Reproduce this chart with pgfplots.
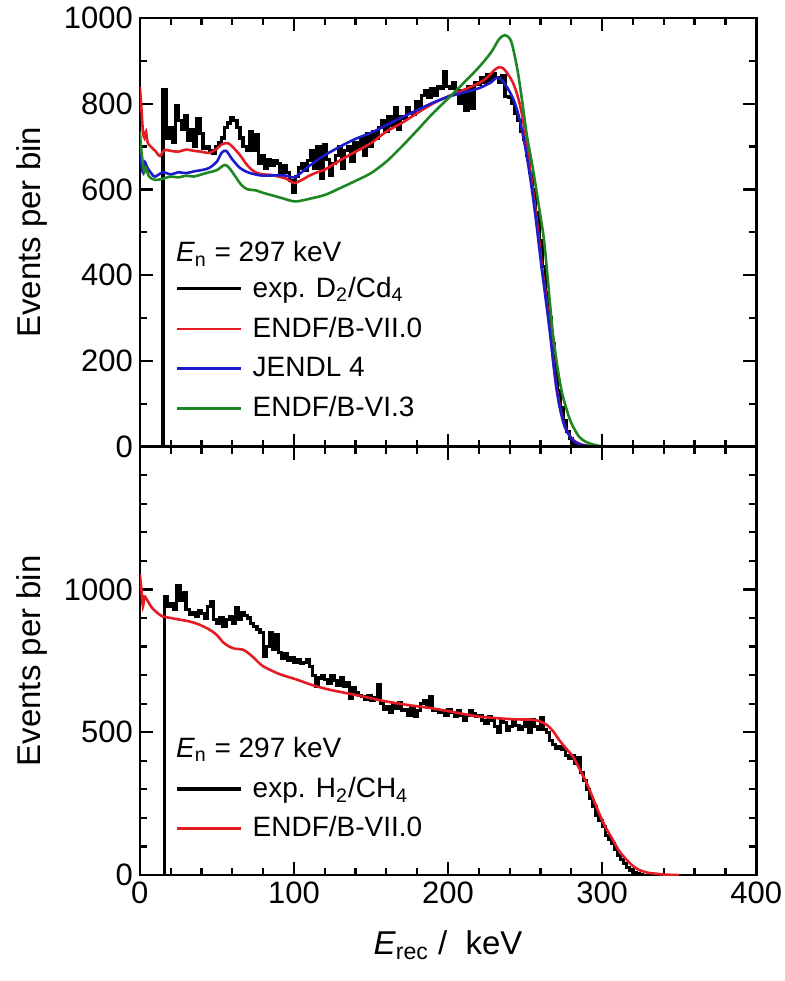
\documentclass[border=0pt]{standalone}
\usepackage{fontspec}
\setmainfont{Liberation Sans}
\usepackage{pgfplots}
\pgfplotsset{compat=1.18}
\definecolor{cred}{RGB}{228,28,36}
\definecolor{cblue}{RGB}{28,28,205}
\definecolor{cgreen}{RGB}{30,135,35}
\pgfplotsset{
  panel/.style={
    scale only axis, width=308.5pt, height=214.5pt,
    xmin=0, xmax=400, xtick={0,100,200,300,400}, minor xtick={20,40,...,380},
    major tick length=6.5pt, minor tick length=3.5pt,
    tick style={black, line width=1.1pt},
    axis line style={line width=1.3pt},
    tick label style={font=\fontsize{15.5}{18}\selectfont},
    /pgf/number format/assume math mode=true,
    /pgf/number format/1000 sep={},
    y label style={at={(axis description cs:-0.175,0.5)}, anchor=center, font=\fontsize{16.5}{19}\selectfont},
    x label style={at={(axis description cs:0.5,-0.163)}, anchor=center, font=\fontsize{16.5}{19}\selectfont},
    legend cell align=left,
    legend image code/.code={\draw[#1] (0pt,0pt) -- (32pt,0pt);},
  },
  expl/.style={black, line width=1.6pt, const plot},
  theo/.style={line width=1.3pt},
}
\begin{document}
\begin{tikzpicture}
% ---------------- top panel ----------------
\begin{axis}[panel, at={(0,214.5pt)}, anchor=south west,
  ymin=0, ymax=1000, ytick={0,200,...,1000}, minor ytick={100,300,...,900},
  xticklabels={}, ylabel={Events per bin},
  legend style={draw=none, fill=none, inner sep=0pt, outer sep=0pt,
    nodes={inner sep=0pt}, row sep=8.5pt, column sep=5pt,
    font=\fontsize{14}{16}\selectfont,
    at={(axis description cs:0.058,0.062)}, anchor=south west}]
\addplot[expl] coordinates {
(14,0) (15,832) (17,720) (19,745) (21,710) (23,795) (25,760) (27,740) (29,772) (31,715)
(33,740) (35,700) (37,765) (39,730) (41,695) (43,700) (45,690) (47,685) (49,700) (51,710)
(53,720) (55,745) (57,755) (59,768) (61,760) (63,745) (65,720) (67,700) (69,690) (71,735)
(73,690) (75,728) (77,660) (79,680) (81,650) (83,670) (85,655) (87,668) (89,660) (91,640)
(93,655) (95,640) (97,620) (99,592) (101,630) (103,650) (105,660) (107,645) (109,668) (111,690)
(113,650) (115,700) (117,625) (119,705) (121,670) (123,632) (125,660) (127,680) (129,700) (131,650)
(133,690) (135,700) (137,665) (139,710) (141,695) (143,720) (145,680) (147,730) (149,700) (151,735)
(153,720) (155,745) (157,760) (159,735) (161,770) (163,750) (165,790) (167,740) (169,770) (171,765)
(173,790) (175,780) (177,775) (179,805) (181,790) (183,820) (185,830) (187,815) (189,835) (191,820)
(193,840) (195,835) (197,874) (199,840) (201,835) (203,850) (205,830) (207,800) (209,830) (211,785)
(213,840) (215,790) (217,850) (219,845) (221,860) (223,850) (225,868) (227,855) (229,870) (231,862)
(233,850) (235,865) (237,817) (239,815) (241,800) (243,778) (245,760) (247,735) (249,716) (251,680)
(253,640) (255,600) (257,545) (259,480) (261,420) (263,360) (265,300) (267,240) (269,180) (271,130)
(273,90) (275,60) (277,35) (279,18) (281,8) (283,3) (285,0) (300,0)
};
\addlegendentry{exp. D\textsubscript{2}/Cd\textsubscript{4}}
\addplot[theo, cred, smooth] coordinates {
(0,840) (1,790) (2,735) (3,720) (4,735) (5,710) (7,700) (10,690) (13,678) (16,692) (20,690)
(25,688) (30,693) (35,690) (40,688) (45,685) (50,695) (53,705) (57,708) (60,700) (65,680)
(70,655) (75,640) (80,635) (85,634) (90,630) (95,625) (100,615) (105,622) (110,632) (115,640)
(120,646) (130,668) (140,688) (150,708) (160,735) (170,755) (180,778) (190,800) (200,817)
(210,832) (220,848) (225,860) (230,878) (233,885) (236,882) (239,868) (242,850) (245,820)
(248,775) (251,708) (253,653) (255,600) (257,545) (259,485) (261,420) (263,365) (266,280)
(268,210) (270,149) (272,105) (274,70) (276,45) (279,25) (282,13) (285,7) (290,2) (295,0)
};
\addlegendentry{ENDF/B-VII.0}
\addplot[theo, cblue, smooth] coordinates {
(0,705) (1,660) (2,640) (3,665) (5,650) (8,635) (10,630) (15,640) (20,635) (25,640) (30,638)
(35,642) (40,645) (45,650) (50,665) (53,685) (56,690) (60,670) (65,650) (70,640) (75,635)
(80,632) (90,633) (95,632) (100,628) (105,640) (110,655) (115,668) (120,680) (130,700)
(140,718) (150,732) (160,750) (170,768) (180,785) (190,802) (200,816) (210,826) (220,836)
(228,850) (231,860) (234,858) (237,845) (240,828) (243,805) (246,770) (249,720) (251,680)
(253,635) (255,585) (257,530) (259,470) (261,410) (263,355) (266,270) (268,205) (270,145)
(272,100) (274,68) (276,44) (279,24) (282,12) (286,4) (292,1) (297,0)
};
\addlegendentry{JENDL 4}
\addplot[theo, cgreen, smooth] coordinates {
(0,735) (1,690) (2,660) (3,640) (4,650) (6,630) (10,622) (15,625) (20,630) (25,628) (30,632)
(35,630) (40,635) (45,640) (50,645) (55,657) (58,650) (62,630) (66,610) (70,600) (75,598)
(80,592) (90,582) (100,572) (105,574) (110,578) (120,587) (130,603) (140,620) (150,638)
(160,665) (170,700) (180,738) (190,777) (200,812) (210,848) (220,885) (228,920) (233,950)
(237,960) (241,945) (245,880) (248,809) (251,730) (255,650) (259,560) (262,490) (264,420)
(266,340) (268,265) (270,210) (272,163) (274,125) (277,86) (280,55) (285,23) (290,10)
(294,5) (300,0)
};
\addlegendentry{ENDF/B-VI.3}
\node[anchor=base west, inner sep=0pt, font=\fontsize{14}{16}\selectfont]
  at (rel axis cs:0.058,0.431) {\textit{E}\textsubscript{n} = 297 keV};
\end{axis}
% ---------------- bottom panel ----------------
\begin{axis}[panel, at={(0,0)}, anchor=south west,
  ymin=0, ymax=1500, ytick={0,500,1000}, minor ytick={100,200,...,1400},
  ylabel={Events per bin},
  xlabel={\textit{E}\textsubscript{rec}\ /\ \ keV},
  legend style={draw=none, fill=none, inner sep=0pt, outer sep=0pt,
    nodes={inner sep=0pt}, row sep=8pt, column sep=5pt,
    font=\fontsize{14}{16}\selectfont,
    at={(axis description cs:0.058,0.082)}, anchor=south west}]
\addplot[expl] coordinates {
(15,0) (16,976) (18,940) (20,950) (22,930) (24,1012) (26,960) (28,990) (30,930) (32,912)
(34,920) (36,905) (38,925) (40,915) (42,900) (44,940) (46,958) (48,895) (50,880) (52,900)
(54,870) (56,895) (58,905) (60,880) (62,936) (64,895) (66,920) (68,910) (70,900) (72,880)
(74,870) (76,860) (78,850) (80,766) (82,800) (84,850) (86,790) (88,842) (90,780) (92,760)
(94,775) (96,750) (98,760) (100,745) (102,755) (104,740) (106,745) (108,755) (110,730) (112,700)
(114,660) (116,690) (118,700) (120,685) (122,670) (124,700) (126,680) (128,665) (130,690) (132,660)
(134,675) (136,620) (138,655) (140,640) (142,630) (144,625) (146,615) (148,630) (150,610) (152,620)
(154,667) (156,600) (158,580) (160,590) (162,570) (164,600) (166,585) (168,605) (170,575) (172,580)
(174,560) (176,590) (178,555) (180,575) (182,600) (184,610) (186,590) (188,625) (190,575) (192,580)
(194,570) (196,575) (198,560) (200,580) (202,570) (204,555) (206,575) (208,560) (210,540) (212,560)
(214,575) (216,565) (218,555) (220,560) (222,540) (224,530) (226,555) (228,540) (230,520) (232,500)
(234,540) (236,535) (238,505) (240,520) (242,540) (244,525) (246,510) (248,520) (250,535) (252,500)
(254,545) (256,520) (258,510) (260,550) (262,510) (264,500) (266,470) (268,456) (270,445) (272,450)
(274,440) (276,420) (278,410) (280,420) (282,390) (284,410) (286,360) (288,330) (290,300) (292,270)
(294,240) (296,210) (298,190) (300,170) (302,140) (304,125) (306,112) (308,90) (310,70) (312,55)
(314,40) (316,28) (318,18) (320,10) (322,7) (324,3) (326,0) (340,0)
};
\addlegendentry{exp. H\textsubscript{2}/CH\textsubscript{4}}
\addplot[theo, cred, smooth] coordinates {
(0,1053) (1,1000) (2,940) (3,975) (5,960) (8,935) (12,915) (15,905) (20,900) (25,895) (32,888)
(38,878) (45,860) (50,840) (54,815) (58,800) (62,792) (67,789) (72,770) (76,750) (80,731)
(90,705) (102,684) (112,665) (123,649) (135,636) (145,625) (155,613) (166,602) (177,593)
(188,585) (198,576) (207,567) (220,555) (235,548) (245,545) (255,544) (260,537) (264,526)
(268,505) (272,474) (276,447) (281,415) (285,375) (290,322) (294,270) (298,217) (302,170)
(307,123) (311,85) (316,53) (320,32) (324,18) (330,8) (335,5) (340,2) (350,0)
};
\addlegendentry{ENDF/B-VII.0}
\node[anchor=base west, inner sep=0pt, font=\fontsize{14}{16}\selectfont]
  at (rel axis cs:0.058,0.275) {\textit{E}\textsubscript{n} = 297 keV};
\end{axis}
\pgfresetboundingbox
\path[use as bounding box] (-70pt,-53pt) rectangle (322.5pt,438pt);
\end{tikzpicture}
\end{document}
